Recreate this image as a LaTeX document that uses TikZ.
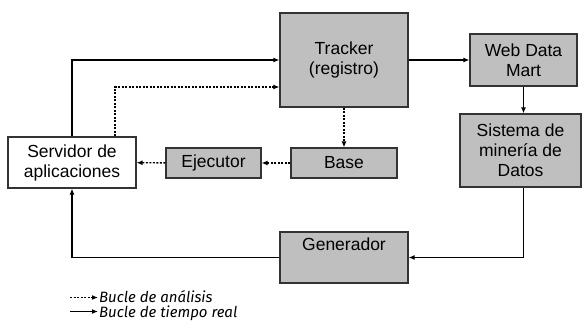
\documentclass[tikz,border=0pt]{standalone}
\usepackage{fontspec}
\setmainfont{Liberation Sans}
\newfontfamily\leyenda{Fira Sans}
\usepackage{tikz}
\usetikzlibrary{arrows.meta}
\tikzset{
    bloque/.style={draw=black!80, line width=1.2pt, fill=gray!50, align=center, inner sep=0pt, font=\fontsize{17.5}{20}\selectfont}, % 方框样式
    link/.style={draw, line width=1.4pt, -{Latex[length=6pt,width=5pt]}}, % 实线箭头
    dlink/.style={link, dash pattern=on 2pt off 1.5pt}, % 虚线箭头
    nota/.style={anchor=base west, inner sep=0pt, font=\leyenda\itshape\fontsize{15}{12}\selectfont}
}

\begin{document}
\begin{tikzpicture}[x=1pt, y=-1pt]
    \useasboundingbox (0,0) rectangle (582,322);

    \node (serv) [bloque, fill=white, minimum width=128pt, minimum height=51pt] at (72, 162.5) {Servidor de\\aplicaciones};
    \node (tracker) [bloque, minimum width=128pt, minimum height=94pt] at (344, 60) {Tracker\\(registro)};
    \node (web) [bloque, minimum width=107pt, minimum height=52pt] at (523.5, 60) {Web Data\\Mart};
    \node (sist) [bloque, minimum width=121pt, minimum height=73pt] at (520.5, 150.5) {Sistema de\\minería de\\Datos};
    \node (base) [bloque, minimum width=106pt, minimum height=30pt] at (344, 163) {Base};
    \node (ejec) [bloque, minimum width=95pt, minimum height=30pt] at (213.5, 163) {Ejecutor};
    \node (gen) [bloque, minimum width=128pt, minimum height=51pt] at (344, 257.5) {Generador\\\strut};

    % 实时回路 - 实线
    \draw[link] (serv.north) |- (tracker.west);
    \draw[link] (tracker) -- (web);
    \draw[link] (web.south) -- (web.south |- sist.north);
    \draw[link] (web.south |- sist.south) |- (gen.east);
    \draw[link] (gen.west) -| (serv.south);

    % 分析回路 - 虚线
    \draw[dlink] ([xshift=43pt]serv.north) |- ([yshift=-27pt]tracker.west);
    \draw[dlink] (tracker) -- (base);
    \draw[dlink] (base) -- (ejec);
    \draw[dlink] (ejec) -- (serv);

    % 图例
    \coordinate (ana) at (70, 297.5);
    \coordinate (real) at (70, 311.5);
    \node (tana) [nota] at (99, 302.5) {Bucle de análisis};
    \node (treal) [nota] at (99, 317) {Bucle de tiempo real};
    \draw[dlink] (ana) -- ([xshift=-1pt]ana -| tana.west);
    \draw[link] (real) -- ([xshift=-1pt]real -| treal.west);
\end{tikzpicture}
\end{document}
